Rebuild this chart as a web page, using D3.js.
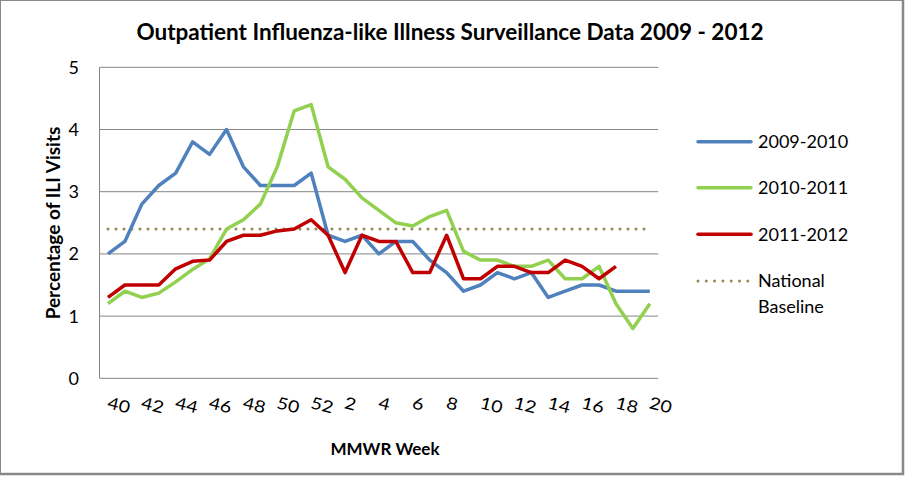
<!DOCTYPE html>
<html>
<head>
<meta charset="utf-8">
<script src="https://cdn.jsdelivr.net/npm/d3@7"></script>
<style>
  html, body { margin: 0; padding: 0; background: #fff; }
  svg { display: block; font-family: Lato, "Open Sans", sans-serif; }
</style>
</head>
<body>
<div id="chart"></div>
<script>
// MMWR weeks, season runs from week 40 to week 20
const weeks = [40, 41, 42, 43, 44, 45, 46, 47, 48, 49, 50, 51, 52,
  1, 2, 3, 4, 5, 6, 7, 8, 9, 10, 11, 12, 13, 14, 15, 16, 17, 18, 19, 20];
const weekTicks = [40, 42, 44, 46, 48, 50, 52, 2, 4, 6, 8, 10, 12, 14, 16, 18, 20];
const yTicks = [0, 1, 2, 3, 4, 5];

const season0910 = [2.0, 2.2, 2.8, 3.1, 3.3, 3.8, 3.6, 4.0, 3.4, 3.1, 3.1, 3.1, 3.3,
  2.3, 2.2, 2.3, 2.0, 2.2, 2.2, 1.9, 1.7, 1.4, 1.5, 1.7, 1.6, 1.7, 1.3, 1.4, 1.5, 1.5, 1.4, 1.4, 1.4];
const season1011 = [1.2, 1.4, 1.3, 1.37, 1.55, 1.75, 1.92, 2.4, 2.55, 2.8, 3.4, 4.3, 4.4,
  3.4, 3.2, 2.9, 2.7, 2.5, 2.45, 2.6, 2.7, 2.04, 1.9, 1.9, 1.8, 1.8, 1.9, 1.6, 1.6, 1.8, 1.2, 0.8, 1.2];
const season1112 = [1.3, 1.5, 1.5, 1.5, 1.76, 1.88, 1.9, 2.2, 2.3, 2.3, 2.37, 2.4, 2.55,
  2.3, 1.7, 2.3, 2.2, 2.2, 1.7, 1.7, 2.3, 1.6, 1.6, 1.8, 1.8, 1.7, 1.7, 1.9, 1.8, 1.6, 1.8];
const baseline = weeks.map(() => 2.4);

const seriesNames = ['2009-2010', '2010-2011', '2011-2012', 'National Baseline'];

const W = 906, H = 477;
const svg = d3.select('#chart').append('svg')
  .attr('width', W)
  .attr('height', H);

// chart frame
svg.append('rect')
  .attr('x', 0.5).attr('y', 0.5)
  .attr('width', 902.5).attr('height', 473)
  .attr('fill', '#fff')
  .attr('stroke', '#898989')
  .attr('stroke-width', 1);
svg.append('path')
  .attr('d', 'M903,0V474H0')
  .attr('fill', 'none')
  .attr('stroke', '#898989')
  .attr('stroke-width', 2.5);

const plot = { left: 99.5, right: 658.3, top: 67.3, bottom: 378.3 };

const x = d3.scalePoint()
  .domain(d3.range(weeks.length))
  .range([plot.left, plot.right])
  .padding(0.5);

const y = d3.scaleLinear()
  .domain([0, 5])
  .range([plot.bottom, plot.top]);

// gridlines
svg.append('g')
  .selectAll('line')
  .data(yTicks.filter(d => d > 0))
  .enter()
  .append('line')
  .attr('x1', plot.left).attr('x2', plot.right)
  .attr('y1', d => y(d)).attr('y2', d => y(d))
  .attr('stroke', '#868686')
  .attr('stroke-width', 1);

// axes lines
svg.append('line')
  .attr('x1', plot.left).attr('x2', plot.left)
  .attr('y1', plot.top).attr('y2', plot.bottom)
  .attr('stroke', '#868686');
svg.append('line')
  .attr('x1', plot.left).attr('x2', plot.right)
  .attr('y1', plot.bottom).attr('y2', plot.bottom)
  .attr('stroke', '#868686');

// y tick labels
svg.append('g')
  .selectAll('text')
  .data(yTicks)
  .enter()
  .append('text')
  .attr('x', 79)
  .attr('y', d => y(d))
  .attr('dy', '0.36em')
  .attr('text-anchor', 'end')
  .attr('font-size', 18)
  .attr('fill', '#000')
  .text(d => d);

// x tick labels, slanted like the original
svg.append('g')
  .selectAll('text')
  .data(weekTicks)
  .enter()
  .append('text')
  .attr('transform', d => `translate(${x(weeks.indexOf(d)) - 1.5},408) rotate(14) scale(1,0.85)`)
  .attr('text-anchor', 'start')
  .attr('font-size', 19.5)
  .attr('fill', '#000')
  .text(d => d);

// series
const line = d3.line()
  .x((d, i) => x(i))
  .y(d => y(d));

svg.append('path')
  .datum(baseline)
  .attr('d', line)
  .attr('fill', 'none')
  .attr('stroke', '#948A54')
  .attr('stroke-width', 3)
  .attr('stroke-linecap', 'round')
  .attr('stroke-dasharray', '0 8');

const series = [
  { name: seriesNames[0], values: season0910, color: '#4F81BD' },
  { name: seriesNames[1], values: season1011, color: '#92D050' },
  { name: seriesNames[2], values: season1112, color: '#C00000' }
];

svg.append('g')
  .selectAll('path')
  .data(series)
  .enter()
  .append('path')
  .attr('d', d => line(d.values))
  .attr('fill', 'none')
  .attr('stroke', d => d.color)
  .attr('stroke-width', 3.5)
  .attr('stroke-linejoin', 'round');

// titles
svg.append('text')
  .attr('x', 450)
  .attr('y', 40)
  .attr('text-anchor', 'middle')
  .attr('font-size', 22.5)
  .attr('font-weight', 'bold')
  .text('Outpatient Influenza-like Illness Surveillance Data 2009 - 2012');

svg.append('text')
  .attr('transform', 'translate(60,223) rotate(-90)')
  .attr('text-anchor', 'middle')
  .attr('font-size', 19)
  .attr('font-weight', 'bold')
  .text('Percentage of ILI Visits');

svg.append('text')
  .attr('x', 385)
  .attr('y', 455)
  .attr('text-anchor', 'middle')
  .attr('font-size', 17)
  .attr('font-weight', 'bold')
  .text('MMWR Week');

// legend
const legendY = [141.7, 187.7, 234.3, 281];
const legend = svg.append('g');
series.forEach((s, i) => {
  legend.append('line')
    .attr('x1', 698).attr('x2', 751)
    .attr('y1', legendY[i]).attr('y2', legendY[i])
    .attr('stroke', s.color)
    .attr('stroke-width', 3.5)
    .attr('stroke-linecap', 'round');
  legend.append('text')
    .attr('x', 758)
    .attr('y', legendY[i])
    .attr('dy', '0.36em')
    .attr('font-size', 18)
    .text(s.name);
});
legend.append('line')
  .attr('x1', 698).attr('x2', 751)
  .attr('y1', legendY[3]).attr('y2', legendY[3])
  .attr('stroke', '#948A54')
  .attr('stroke-width', 3)
  .attr('stroke-linecap', 'round')
  .attr('stroke-dasharray', '0 8.3');
const baseLabel = legend.append('text')
  .attr('x', 758)
  .attr('y', legendY[3])
  .attr('dy', '0.36em')
  .attr('font-size', 18);
baseLabel.append('tspan').attr('x', 758).text('National');
baseLabel.append('tspan').attr('x', 758).attr('dy', 25.7).text('Baseline');
</script>
</body>
</html>
